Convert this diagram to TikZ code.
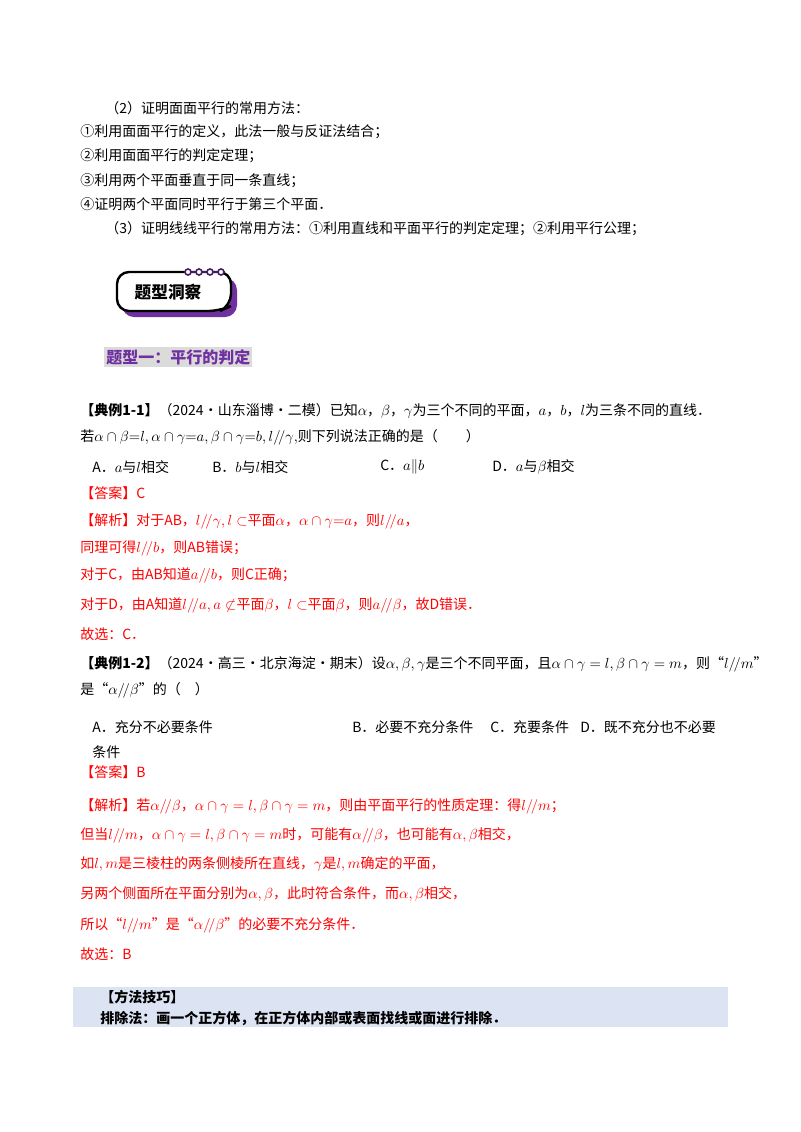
\documentclass[tikz,border=0pt]{standalone}
\usepackage{fontspec}
\setmainfont{Noto Sans CJK SC}
\definecolor{pur}{HTML}{7030A0}
\definecolor{ans}{HTML}{FF0000}
\definecolor{tipbg}{HTML}{DCE3F2}
\begin{document}
\begin{tikzpicture}[x=0.75pt,y=-0.75pt,
  t/.style={anchor=west,inner sep=0pt,font=\fontsize{10.5}{12}\selectfont},
  r/.style={t,text=ans},
  b/.style={t,font=\fontsize{10.5}{12}\selectfont\bfseries}]
\useasboundingbox (0,0) rectangle (800,1132);
\node[t] (l1) at (105,108) {（2）证明面面平行的常用方法：};
\node[t] (l2) at (80,132) {①利用面面平行的定义，此法一般与反证法结合；};
\node[t] (l3) at (80,156) {②利用面面平行的判定定理；};
\node[t] (l4) at (80,181) {③利用两个平面垂直于同一条直线；};
\node[t] (l5) at (80,204) {④证明两个平面同时平行于第三个平面．};
\node[t] (l6) at (105,229) {（3）证明线线平行的常用方法：①利用直线和平面平行的判定定理；②利用平行公理；};
% badge
\fill[pur,rounded corners=9pt] (122,278) -- (237,278) -- (237,317) -- (122,317) -- cycle;
\draw[line width=1.8pt,fill=white,rounded corners=9pt] (117,272) -- (231,272) -- (231,306) -- (220,311) -- (117,311) -- cycle;
\draw[line width=1.2pt,pur!60!black] (186,272) -- (225,272);
\foreach \x in {188,199,210,221} \draw[pur!60!black,line width=1.2pt,fill=white] (\x,272) circle (3);
\node[font=\fontsize{12.5}{14}\selectfont\bfseries] (bd) at (168,292) {题型洞察};
\node[b,font=\fontsize{12}{14}\selectfont\bfseries,text=pur,fill=black!14,inner sep=1.5pt] (h1) at (104,357) {题型一：平行的判定};
% example 1-1
\node[t] (e1) at (80,411) {\textbf{【典例1-1】}（2024·山东淄博·二模）已知$\alpha$，$\beta$，$\gamma$为三个不同的平面，$a$，$b$，$l$为三条不同的直线．};
\node[t] (e2) at (80,437) {若$\alpha\cap\beta{=}l,\alpha\cap\gamma{=}a,\beta\cap\gamma{=}b,l/\!/\gamma,$则下列说法正确的是（\qquad）};
\node[t] (oa) at (92,467) {A．$a$与$l$相交};
\node[t] (ob) at (212,467) {B．$b$与$l$相交};
\node[t] (oc) at (380,467) {C．$a\|b$};
\node[t] (od) at (492,467) {D．$a$与$\beta$相交};
\node[r] (a1) at (80,493) {【答案】C};
\node[r] (s1) at (80,521) {【解析】对于AB，$l/\!/\gamma,l\subset$平面$\alpha$，$\alpha\cap\gamma{=}a$，则$l/\!/a$，};
\node[r] (s2) at (80,548) {同理可得$l/\!/b$，则AB错误；};
\node[r] (s3) at (80,575) {对于C，由AB知道$a/\!/b$，则C正确；};
\node[r] (s4) at (80,605) {对于D，由A知道$l/\!/a,a\not\subset$平面$\beta$，$l\subset$平面$\beta$，则$a/\!/\beta$，故D错误．};
\node[r] (s5) at (80,634) {故选：C．};
% example 1-2
\node[t] (f1) at (80,664) {\textbf{【典例1-2】}（2024·高三·北京海淀·期末）设$\alpha,\beta,\gamma$是三个不同平面，且$\alpha\cap\gamma=l,\beta\cap\gamma=m$，则“$l/\!/m$”};
\node[t] (f2) at (80,690) {是“$\alpha/\!/\beta$”的（\quad）};
\node[t] (pa) at (92,727) {A．充分不必要条件};
\node[t] (pb) at (352,727) {B．必要不充分条件};
\node[t] (pc) at (490,727) {C．充要条件};
\node[t] (pd) at (580,727) {D．既不充分也不必要};
\node[t] (pe) at (92,752) {条件};
\node[r] (a2) at (80,772) {【答案】B};
\node[r] (u1) at (80,806) {【解析】若$\alpha/\!/\beta$，$\alpha\cap\gamma=l,\beta\cap\gamma=m$，则由平面平行的性质定理：得$l/\!/m$；};
\node[r] (u2) at (80,835) {但当$l/\!/m$，$\alpha\cap\gamma=l,\beta\cap\gamma=m$时，可能有$\alpha/\!/\beta$，也可能有$\alpha,\beta$相交，};
\node[r] (u3) at (80,864) {如$l,m$是三棱柱的两条侧棱所在直线，$\gamma$是$l,m$确定的平面，};
\node[r] (u4) at (80,894) {另两个侧面所在平面分别为$\alpha,\beta$，此时符合条件，而$\alpha,\beta$相交，};
\node[r] (u5) at (80,925) {所以“$l/\!/m$”是“$\alpha/\!/\beta$”的必要不充分条件．};
\node[r] (u6) at (80,954) {故选：B};
% tip box
\fill[tipbg] (73,987) rectangle (728,1027);
\node[b] (k1) at (100,997) {【方法技巧】};
\node[b] (k2) at (100,1018) {排除法：画一个正方体，在正方体内部或表面找线或面进行排除．};
\end{tikzpicture}
\end{document}
